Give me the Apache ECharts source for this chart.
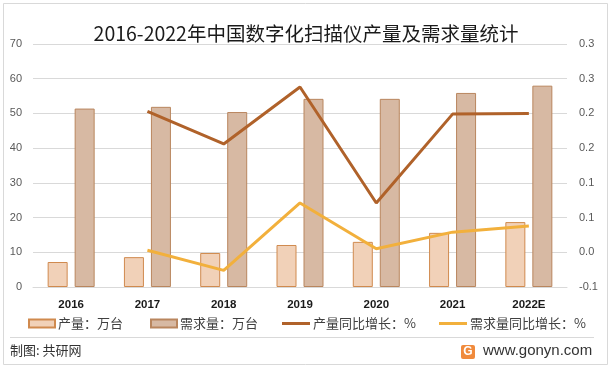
<!DOCTYPE html>
<html>
<head>
<meta charset="utf-8">
<script src="https://cdn.jsdelivr.net/npm/echarts@6/dist/echarts.min.js"></script>
<style>
html,body{margin:0;padding:0;background:#fff;}
#c{width:612px;height:369px;}
</style>
</head>
<body>
<div id="c"></div>
<script>
const categories = ['2016','2017','2018','2019','2020','2021','2022E'];
const production = [7.2, 8.6, 9.8, 12.1, 13.0, 15.6, 18.7];
const demand = [51.4, 51.9, 50.4, 54.2, 54.2, 55.9, 58.0];
const productionGrowth = [null, 0.203, 0.156, 0.238, 0.071, 0.199, 0.200];
const demandGrowth = [null, 0.003, -0.026, 0.071, 0.005, 0.029, 0.038];
const names = ['产量：万台', '需求量：万台', '产量同比增长：%', '需求量同比增长：%'];
const titleText = '2016-2022年中国数字化扫描仪产量及需求量统计';

const chart = echarts.init(document.getElementById('c'), null, {renderer: 'canvas'});
const cjk = '"Noto Sans CJK SC", "Noto Sans", sans-serif';
const legendBase = {
  orient: 'horizontal', top: 317, itemHeight: 8, itemWidth: 26,
  textStyle: {fontFamily: cjk, fontSize: 13, color: '#404040', padding: [0,0,0,-2]},
  selectedMode: false, padding: 0
};
chart.setOption({
  animation: false,
  backgroundColor: '#fff',
  title: {
    text: titleText, left: 'center', top: 19,
    textStyle: {fontFamily: cjk, fontSize: 19.5, fontWeight: 'normal', color: '#1a1a1a'}
  },
  legend: [
    Object.assign({}, legendBase, {data: [names[0]], left: 28, icon: 'rect'}),
    Object.assign({}, legendBase, {data: [names[1]], left: 150, icon: 'rect'}),
    Object.assign({}, legendBase, {data: [names[2]], left: 282, icon: 'rect', itemWidth: 28, itemHeight: 3}),
    Object.assign({}, legendBase, {data: [names[3]], left: 439, icon: 'rect', itemWidth: 28, itemHeight: 3})
  ],
  grid: {left: 33, right: 45, top: 44, bottom: 82, containLabel: false},
  xAxis: {
    type: 'category', data: categories,
    axisTick: {show: false},
    axisLine: {lineStyle: {color: '#D9D9D9', width: 1}},
    axisLabel: {color: '#1a1a1a', fontWeight: 'bold', fontSize: 11.5, fontFamily: '"Liberation Sans", Arial, sans-serif', margin: 12}
  },
  yAxis: [
    {
      type: 'value', min: 0, max: 70, interval: 10,
      axisLine: {show: false}, axisTick: {show: false},
      splitLine: {lineStyle: {color: '#D9D9D9', width: 1}},
      axisLabel: {color: '#595959', fontSize: 11, fontFamily: '"Liberation Sans", Arial, sans-serif', margin: 11}
    },
    {
      type: 'value', min: -0.05, max: 0.30, interval: 0.05,
      axisLine: {show: false}, axisTick: {show: false},
      splitLine: {show: false},
      axisLabel: {
        color: '#595959', fontSize: 11, fontFamily: '"Liberation Sans", Arial, sans-serif', margin: 12,
        formatter: function (v) {
          const s = v < 0 ? -1 : 1;
          const r = Math.round(Math.abs(v) * 10 + 1e-6) / 10;
          return (s * r === 0 ? 0 : s * r).toFixed(1);
        }
      }
    }
  ],
  series: [
    {
      name: names[0], type: 'bar', data: production, barWidth: 20, barGap: '35%',
      itemStyle: {color: '#F1D1B8', borderColor: '#D08A4E', borderWidth: 1}
    },
    {
      name: names[1], type: 'bar', data: demand, barWidth: 20,
      itemStyle: {color: '#D7B9A3', borderColor: '#B9865E', borderWidth: 1}
    },
    {
      name: names[2], type: 'line', yAxisIndex: 1, data: productionGrowth,
      symbol: 'none', lineStyle: {color: '#B0622A', width: 3}, itemStyle: {color: '#B0622A'}
    },
    {
      name: names[3], type: 'line', yAxisIndex: 1, data: demandGrowth,
      symbol: 'none', lineStyle: {color: '#F2B03C', width: 3}, itemStyle: {color: '#F2B03C'}
    }
  ],
  graphic: [
    {type: 'rect', shape: {x: 3.5, y: 3.5, width: 604, height: 361}, style: {fill: null, stroke: '#D9D9D9', lineWidth: 1}, silent: true},
    {type: 'line', shape: {x1: 10, y1: 337.5, x2: 594, y2: 337.5}, style: {stroke: '#D9D9D9', lineWidth: 1}, silent: true},
    {type: 'text', left: 10, top: 344, style: {text: '制图: 共研网', font: '13px "Noto Sans CJK SC", sans-serif', fill: '#333'}},
    {type: 'rect', shape: {x: 461, y: 345, width: 14, height: 14, r: 2}, style: {fill: '#F08A3C'}},
    {type: 'text', x: 468, y: 352, style: {text: 'G', font: 'bold 12px "Liberation Sans", Arial, sans-serif', fill: '#fff', align: 'center', verticalAlign: 'middle'}},
    {type: 'text', left: 483, top: 343, style: {text: 'www.gonyn.com', font: '15px "Liberation Sans", Arial, sans-serif', fill: '#333'}}
  ]
});
</script>
</body>
</html>
